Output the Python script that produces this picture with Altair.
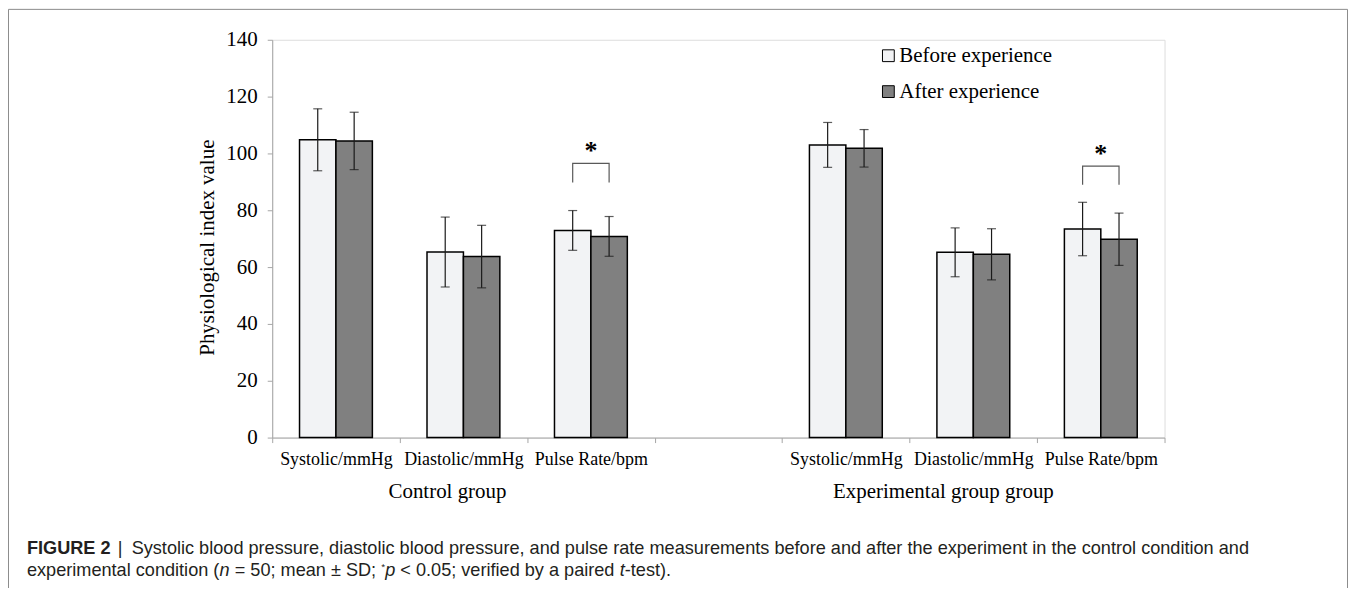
import altair as alt
import pandas as pd

# ---------------- data ----------------
measures = ["Systolic/mmHg", "Diastolic/mmHg", "Pulse Rate/bpm"]
groups = ["Control group", "Experimental group group"]
group_keys = ["C", "E"]
series = ["Before experience", "After experience"]
colors = ["#f2f3f5", "#808080"]

ctrl_before_mean = [104.8, 65.3, 72.9]
ctrl_before_sd = [10.9, 12.3, 7.0]
ctrl_after_mean = [104.4, 63.7, 70.8]
ctrl_after_sd = [10.1, 11.0, 7.0]
exp_before_mean = [103.0, 65.2, 73.4]
exp_before_sd = [7.9, 8.6, 9.4]
exp_after_mean = [101.8, 64.5, 69.8]
exp_after_sd = [6.6, 9.0, 9.2]

bracket_top = [96.5, 95.5]
bracket_end = [89.8, 89.0]
y_ticks = [0, 20, 40, 60, 80, 100, 120, 140]

caption_bold = "FIGURE 2"
caption_line1 = ("Systolic blood pressure, diastolic blood pressure, and pulse rate measurements "
                 "before and after the experiment in the control condition and")
caption_line2 = [
    ("experimental condition (", "normal"),
    ("n", "italic"),
    (" = 50; mean \u00b1 SD; ", "normal"),
    ("*", "super"),
    ("p", "italic"),
    (" < 0.05; verified by a paired ", "normal"),
    ("t", "italic"),
    ("-test).", "normal"),
]

# ---------------- tables ----------------
slots = [f"C|{m}" for m in measures] + ["gap|"] + [f"E|{m}" for m in measures]

means = {("C", 0): ctrl_before_mean, ("C", 1): ctrl_after_mean,
         ("E", 0): exp_before_mean, ("E", 1): exp_after_mean}
sds = {("C", 0): ctrl_before_sd, ("C", 1): ctrl_after_sd,
       ("E", 0): exp_before_sd, ("E", 1): exp_after_sd}

rows = []
for g in group_keys:
    for si, s in enumerate(series):
        for mi, m in enumerate(measures):
            mu = means[(g, si)][mi]
            sd = sds[(g, si)][mi]
            rows.append({"slot": f"{g}|{m}", "series": s, "mean": mu,
                         "lo": mu - sd, "hi": mu + sd})
df = pd.DataFrame(rows)

br_rows = []
for gi, g in enumerate(group_keys):
    slot = f"{g}|{measures[2]}"
    pts = [(series[0], bracket_end[gi]), (series[0], bracket_top[gi]),
           (series[1], bracket_top[gi]), (series[1], bracket_end[gi])]
    for k, (s, yv) in enumerate(pts):
        br_rows.append({"slot": slot, "series": s, "y": yv, "ord": k, "grp": g})
df_br = pd.DataFrame(br_rows)
df_star = pd.DataFrame({"slot": [f"{g}|{measures[2]}" for g in group_keys],
                        "y": bracket_top})

SERIF = "Liberation Serif"
SANS = "Liberation Sans"

x_enc = alt.X("slot:N",
              scale=alt.Scale(domain=slots, paddingInner=0, paddingOuter=0),
              axis=alt.Axis(title=None, labelExpr="split(datum.value, '|')[1]",
                            labelAngle=0, labelFont=SERIF, labelFontSize=18,
                            labelColor="black", labelPadding=8, tickBand="extent",
                            tickSize=5, tickColor="#a6a6a6", domainColor="#a6a6a6",
                            labelBaseline="top"))
xo_enc = alt.XOffset("series:N",
                     scale=alt.Scale(domain=series, paddingInner=0, paddingOuter=0.75))


def y_enc(field):
    return alt.Y(field, scale=alt.Scale(domain=[0, 140], nice=False),
                 axis=alt.Axis(values=y_ticks, title="Physiological index value",
                               grid=False, labelFont=SERIF, labelFontSize=21,
                               labelColor="black", labelPadding=10, tickSize=5,
                               tickColor="#a6a6a6", domainColor="#a6a6a6",
                               titleFont=SERIF, titleFontSize=21,
                               titleFontWeight="normal", titleColor="black",
                               titleX=-59, titleY=208, titleBaseline="alphabetic",
                               titleAngle=270))


bars = alt.Chart(df).mark_bar(stroke="black", strokeWidth=1.5).encode(
    x=x_enc, xOffset=xo_enc, y=y_enc("mean:Q"),
    color=alt.Color("series:N", scale=alt.Scale(domain=series, range=colors), legend=None),
)
err = alt.Chart(df).mark_rule(color="#1a1a1a", strokeWidth=1.2).encode(
    x=x_enc, xOffset=xo_enc, y=y_enc("lo:Q"), y2="hi:Q")
cap_hi = alt.Chart(df).mark_tick(color="#1a1a1a", thickness=1.2, size=9).encode(
    x=x_enc, xOffset=xo_enc, y=y_enc("hi:Q"))
cap_lo = alt.Chart(df).mark_tick(color="#1a1a1a", thickness=1.2, size=9).encode(
    x=x_enc, xOffset=xo_enc, y=y_enc("lo:Q"))
bracket = alt.Chart(df_br).mark_line(color="#595959", strokeWidth=1.2).encode(
    x=x_enc, xOffset=xo_enc, y=y_enc("y:Q"), order="ord:Q", detail="grp:N")
star = alt.Chart(df_star).mark_text(text="*", font=SERIF, fontSize=26, fontWeight="bold",
                                    baseline="alphabetic", dy=-4, color="black").encode(
    x=x_enc, y=y_enc("y:Q"))

group_dx = [-16, -30]
glabels = []
for gi, g in enumerate(group_keys):
    d = pd.DataFrame({"slot": [f"{g}|{measures[1]}"], "label": [groups[gi]]})
    glabels.append(alt.Chart(d).mark_text(font=SERIF, fontSize=21, color="black",
                                          baseline="middle", dx=group_dx[gi]).encode(
        x=x_enc, y=alt.value(454), text="label:N"))

legend_layers = []
for i, s in enumerate(series):
    d = pd.DataFrame({"label": [s]})
    legend_layers.append(alt.Chart(d).mark_point(shape="square", filled=True, size=140,
                                                 stroke="black", strokeWidth=1, opacity=1).encode(
        x=alt.value(618), y=alt.value(16 + 36 * i), fill=alt.value(colors[i])))
    legend_layers.append(alt.Chart(d).mark_text(font=SERIF, fontSize=21, color="black",
                                                align="left", baseline="middle").encode(
        x=alt.value(629), y=alt.value(16 + 36 * i), text="label:N"))

# ---------------- caption ----------------
W = {' ': 278, '(': 333, ')': 333, '*': 389, '-': 333, '.': 278, ';': 278, ',': 278,
     '=': 584, '<': 584, '\u00b1': 549, 'S': 667, 'D': 722, 'a': 556, 'b': 556, 'c': 500,
     'd': 556, 'e': 556, 'f': 278, 'i': 222, 'l': 222, 'm': 833, 'n': 556, 'o': 556,
     'p': 556, 'r': 333, 's': 500, 't': 278, 'u': 556, 'v': 500, 'x': 500, 'y': 500}


def tw(s, size):
    return sum(W.get(ch, 556) for ch in s) * size / 1000.0


CAP = 18.2
cap_x0 = -246
cap_y1 = 516
cap_y2 = 538
cap_layers = []


def cap_text(txt, x, y, size, weight="normal", style="normal"):
    return alt.Chart(pd.DataFrame({"t": [txt]})).mark_text(
        font=SANS, fontSize=size, fontWeight=weight, fontStyle=style, color="#231f20",
        align="left", baseline="alphabetic").encode(
        x=alt.value(x), y=alt.value(y), text="t:N")


cap_layers.append(cap_text(caption_bold, cap_x0, cap_y1, CAP, weight="bold"))
cap_layers.append(cap_text("|", -155, cap_y1, CAP))
cap_layers.append(cap_text(caption_line1, -141, cap_y1, CAP))
xc = cap_x0
for txt, style in caption_line2:
    size = 10 if style == "super" else CAP
    lead = len(txt) - len(txt.lstrip(" "))
    xs = xc + tw(" " * lead, size)
    body = txt.strip(" ")
    if style == "super":
        cap_layers.append(cap_text(body, xs, cap_y2 - 6, size))
    else:
        cap_layers.append(cap_text(body, xs, cap_y2, size,
                                   style="italic" if style == "italic" else "normal"))
    xc += tw(txt, size)

# ---------------- border ----------------
bd = pd.DataFrame({"k": [0]})
border = [
    alt.Chart(bd).mark_rule(color="#8c8c8c", strokeWidth=1).encode(
        x=alt.value(-264.5), y=alt.value(-30.5), y2=alt.value(560)),
    alt.Chart(bd).mark_rule(color="#8c8c8c", strokeWidth=1).encode(
        x=alt.value(1078.5), y=alt.value(-30.5), y2=alt.value(560)),
    alt.Chart(bd).mark_rule(color="#8c8c8c", strokeWidth=1).encode(
        x=alt.value(-264.5), x2=alt.value(1078.5), y=alt.value(-30.5)),
]

chart = alt.layer(
    bars, err, cap_hi, cap_lo, bracket, star, *glabels, *legend_layers, *cap_layers, *border
).properties(
    width=895, height=399,
    padding={"left": 265, "top": 31, "right": 184, "bottom": 150},
    autosize=alt.AutoSizeParams(type="none"),
).configure_view(stroke=None).configure(background="white")

chart.save("out.html", embed_options={"renderer": "svg", "actions": False})
